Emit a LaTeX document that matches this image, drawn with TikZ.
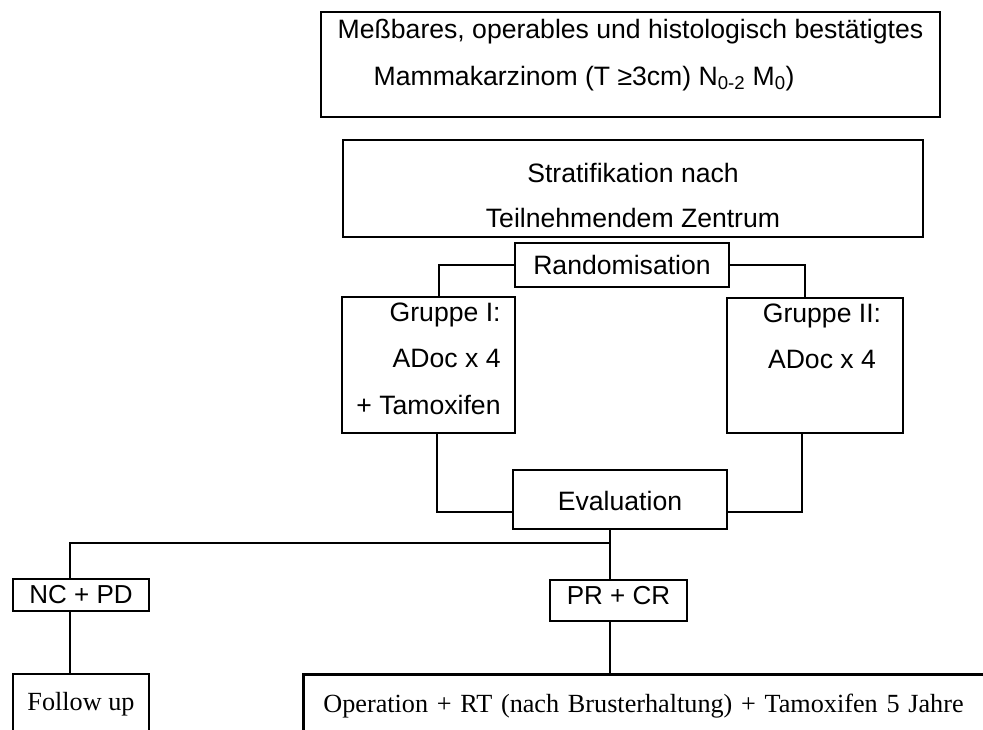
\documentclass[tikz,border=0pt]{standalone}
\usepackage{fontspec}
\setmainfont{Liberation Sans}
\newfontfamily\timesfont{Liberation Serif}
\newcommand{\topstrut}[1]{\rule{0pt}{#1pt}}
\newcommand{\botstrut}[1]{\rule[-#1pt]{0pt}{#1pt}}

\begin{document}
\begin{tikzpicture}[x=1pt, y=-1pt,
  every node/.style={font=\fontsize{26.6}{47}\selectfont},
  box/.style={draw, line width=2.8pt, inner sep=2pt, align=center},
  serifbox/.style={box, font=\timesfont\fontsize{26.2}{32}\selectfont},
  conn/.style={line width=2.4pt}]
\useasboundingbox (0,0) rectangle (983,729);
\clip (0,0) rectangle (983,729);
\node[box, minimum width=619pt, minimum height=105pt, align=left] (crit) at (630.5,64.5)
  {\topstrut{22}Meßbares, operables und histologisch bestätigtes\\
   \hspace*{36pt}Mammakarzinom (T ≥3cm) N\textsubscript{0-2} M\textsubscript{0})\botstrut{28}};
\node[box, minimum width=580pt, minimum height=97pt, font=\fontsize{26.6}{45}\selectfont] (strat) at (633,188.5)
  {\topstrut{38}Stratifikation nach\\Teilnehmendem Zentrum\botstrut{6}};
\node[box, minimum width=214pt, minimum height=44pt, text height=20pt, text depth=2pt] (rand) at (622,265) {Randomisation};
\node[box, minimum width=173pt, minimum height=136pt, align=right, font=\fontsize{26.6}{46.5}\selectfont] (grp1) at (428.5,365)
  {\topstrut{22}Gruppe I:\\ADoc x 4\\+ Tamoxifen\botstrut{17}};
\node[box, minimum width=176pt, minimum height=135pt, font=\fontsize{26.6}{46}\selectfont] (grp2) at (815,365.5)
  {\topstrut{20}\hspace*{14pt}Gruppe II:\\\hspace*{14pt}ADoc x 4\botstrut{61}};
\node[box, minimum width=214pt, minimum height=59pt, text height=21pt, text depth=0pt] (eval) at (620,499.5) {Evaluation};
\node[box, minimum width=136pt, minimum height=32pt, text height=18pt, text depth=2pt, font=\fontsize{26}{30}\selectfont] (ncpd) at (81,595) {NC + PD};
\node[box, minimum width=137pt, minimum height=41pt, text height=19pt, text depth=12pt, font=\fontsize{26}{30}\selectfont] (prcr) at (618.5,600.5) {PR + CR};
\node[serifbox, minimum width=136pt, minimum height=86pt, text height=19pt, text depth=33pt] (follow) at (81,717) {Follow up};
\node[serifbox, anchor=north west, text width=700pt, inner xsep=20pt, align=left, minimum height=86pt, text height=20pt, text depth=30pt] (oper) at (302,673)
  {Operation + RT (nach Brusterhaltung) + Tamoxifen 5 Jahre};
\coordinate (split) at (610,543);
\draw[conn] (rand.west) -| ([xshift=10.5pt]grp1.north);
\draw[conn] (rand.east) -| ([xshift=-10pt]grp2.north);
\draw[conn] ([xshift=8.5pt]grp1.south) |- ([yshift=-12.5pt]eval.west);
\draw[conn] ([xshift=-13pt]grp2.south) |- ([yshift=-12.5pt]eval.east);
\draw[conn] ([xshift=-10pt]eval.south) -- (split);
\draw[conn] (split) -| ([xshift=-11pt]ncpd.north);
\draw[conn] (split) -- (split |- prcr.north);
\draw[conn] ([xshift=-11pt]ncpd.south) -- ([xshift=-11pt]ncpd.south |- follow.north);
\draw[conn] (split |- prcr.south) -- (split |- oper.north);
\end{tikzpicture}
\end{document}
